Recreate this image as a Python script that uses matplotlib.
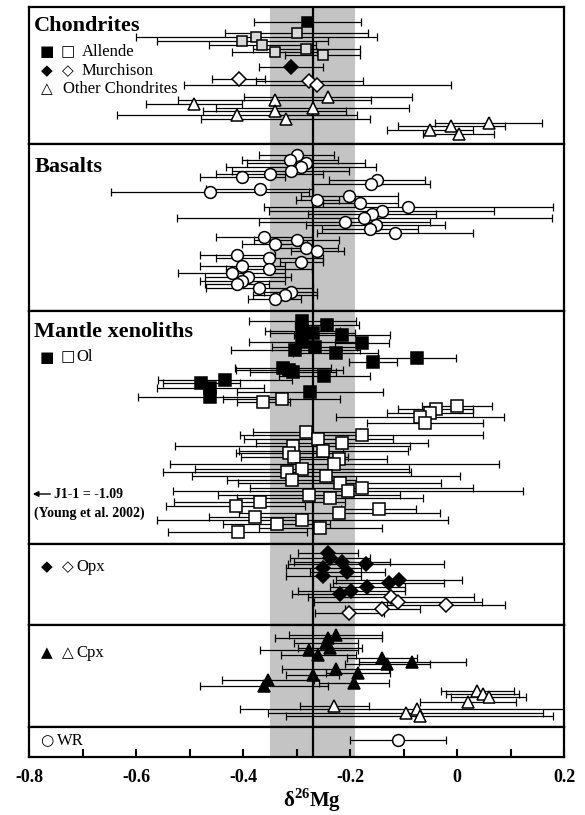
import matplotlib.pyplot as plt

plt.rcParams['font.family'] = ['Liberation Serif', 'DejaVu Sans']
plt.rcParams['axes.unicode_minus'] = False
plt.rcParams['mathtext.fontset'] = 'custom'
plt.rcParams['mathtext.rm'] = 'Liberation Serif'
plt.rcParams['mathtext.bf'] = 'Liberation Serif:bold'

# ---- data: delta26Mg value, 2sd error, row (vertical order inside each panel)
# Chondrites
allende_fill_val = [-0.28]
allende_fill_err = [0.10]
allende_fill_row = [15]
allende_open_val = [-0.300, -0.375, -0.401, -0.364, -0.282, -0.341, -0.251]
allende_open_err = [0.134, 0.225, 0.16, 0.10, 0.10, 0.08, 0.07]
allende_open_row = [26, 30, 34, 38, 42, 45, 48]
murch_fill_val = [-0.311]
murch_fill_err = [0.06]
murch_fill_row = [60]
murch_open_val = [-0.408, -0.276, -0.261]
murch_open_err = [0.05, 0.10, 0.25]
murch_open_row = [72, 74, 78]
other_val = [-0.241, -0.341, -0.492, -0.270, -0.341, -0.411, -0.320, 0.059, -0.011, -0.051, 0.003]
other_err = [0.157, 0.18, 0.09, 0.18, 0.134, 0.224, 0.158, 0.10, 0.10, 0.08, 0.066]
other_row = [90, 93, 97, 101, 104, 108, 112, 116, 119, 123, 127]

# Basalts
basalt_val = [-0.300, -0.312, -0.282, -0.291, -0.311, -0.350, -0.401, -0.150, -0.161, -0.369,
              -0.461, -0.201, -0.261, -0.181, -0.091, -0.141, -0.159, -0.173, -0.210, -0.152,
              -0.162, -0.116, -0.361, -0.300, -0.341, -0.282, -0.261, -0.411, -0.351, -0.291,
              -0.401, -0.351, -0.421, -0.391, -0.401, -0.411, -0.370, -0.311, -0.321, -0.341]
basalt_err = [0.07, 0.09, 0.11, 0.14, 0.11, 0.10, 0.08, 0.09, 0.11, 0.10,
              0.185, 0.09, 0.04, 0.07, 0.27, 0.21, 0.12, 0.35, 0.16, 0.13,
              0.09, 0.146, 0.09, 0.08, 0.06, 0.06, 0.05, 0.07, 0.10, 0.04,
              0.08, 0.08, 0.10, 0.08, 0.08, 0.06, 0.10, 0.05, 0.06, 0.05]
basalt_row = [11, 16, 19, 23, 27, 30, 33, 36, 40, 45,
              48, 52, 56, 59, 63, 67, 70, 74, 78, 81,
              85, 89, 93, 96, 100, 104, 107, 111, 114, 118,
              122, 125, 129, 133, 137, 140, 144, 148, 151, 155]

# Mantle xenoliths - olivine
ol_fill_val = [-0.289, -0.243, -0.289, -0.270, -0.215, -0.289, -0.266, -0.178, -0.302, -0.227,
               -0.075, -0.157, -0.325, -0.307, -0.314, -0.248, -0.433, -0.478, -0.461, -0.461, -0.275]
ol_fill_err = [0.10, 0.06, 0.07, 0.08, 0.09, 0.10, 0.08, 0.05, 0.12, 0.08,
               0.073, 0.045, 0.09, 0.08, 0.10, 0.085, 0.125, 0.072, 0.10, 0.136, 0.136]
ol_fill_row = [10, 14, 20, 22, 24, 31, 36, 32, 39, 42,
               47, 51, 57, 61, 59, 65, 69, 72, 77, 86, 81]
ol_open_val = [-0.328, -0.362, 0.000, -0.040, -0.050, -0.070, -0.060,
               -0.282, -0.178, -0.259, -0.215, -0.307, -0.250, -0.314, -0.304, -0.221, -0.229,
               -0.289, -0.318, -0.245, -0.309, -0.219, -0.178, -0.203, -0.276, -0.238, -0.369,
               -0.414, -0.146, -0.220, -0.377, -0.289, -0.337, -0.256, -0.410]
ol_open_err = [0.11, 0.05, 0.066, 0.07, 0.08, 0.157, 0.108,
               0.10, 0.227, 0.14, 0.16, 0.22, 0.158, 0.10, 0.10, 0.09, 0.308,
               0.20, 0.232, 0.25, 0.12, 0.19, 0.208, 0.327, 0.17, 0.174, 0.16,
               0.13, 0.07, 0.188, 0.086, 0.272, 0.10, 0.115, 0.13]
ol_open_row = [88, 91, 95, 98, 102, 106, 112,
               121, 124, 128, 132, 135, 140, 142, 146, 148, 153,
               158, 161, 165, 169, 172, 177, 180, 184, 187, 191,
               195, 198, 202, 206, 209, 213, 217, 221]

# Orthopyroxene
opx_fill_val = [-0.241, -0.238, -0.215, -0.170, -0.250, -0.205, -0.250, -0.109, -0.128, -0.168, -0.198, -0.218]
opx_fill_err = [0.056, 0.075, 0.09, 0.145, 0.07, 0.07, 0.07, 0.118, 0.103, 0.07, 0.10, 0.09]
opx_fill_row = [9, 14, 18, 20, 24, 28, 32, 36, 39, 43, 47, 50]
opx_open_val = [-0.123, -0.110, -0.020, -0.140, -0.201]
opx_open_err = [0.155, 0.157, 0.11, 0.07, 0.065]
opx_open_row = [53, 58, 61, 65, 69]

# Clinopyroxene
cpx_fill_val = [-0.227, -0.241, -0.245, -0.238, -0.277, -0.259, -0.140, -0.084, -0.130, -0.227,
                -0.185, -0.270, -0.354, -0.361, -0.193]
cpx_fill_err = [0.087, 0.10, 0.06, 0.06, 0.092, 0.07, 0.065, 0.10, 0.08, 0.10,
                0.06, 0.05, 0.086, 0.12, 0.065]
cpx_fill_row = [10, 13, 18, 23, 25, 30, 33, 37, 39, 44, 48, 50, 55, 61, 58]
cpx_open_val = [0.038, 0.048, 0.059, 0.021, -0.229, -0.075, -0.096, -0.070]
cpx_open_err = [0.068, 0.068, 0.07, 0.09, 0.065, 0.33, 0.257, 0.25]
cpx_open_row = [66, 69, 72, 77, 81, 84, 88, 91]

# Whole rock
wr_val = [-0.110]
wr_err = [0.09]
wr_row = [13]

xticks = [-0.8, -0.6, -0.4, -0.2, 0.0, 0.2]
xtick_labels = ['-0.8', '-0.6', '-0.4', '-0.2', '0', '0.2']
minor_ticks = [-0.7, -0.5, -0.3, -0.1, 0.1]
mean_val = -0.27
band = (-0.35, -0.19)

# ---- layout (pixel rows of the 585x815 figure)
W, H = 585, 815
left_px, right_px = 29, 564
edges = [7, 144, 311, 544, 625, 727, 757]

fig = plt.figure(figsize=(W / 100, H / 100), dpi=100)
axes = []
for top, bot in zip(edges[:-1], edges[1:]):
    ax = fig.add_axes([left_px / W, 1 - bot / H, (right_px - left_px) / W, (bot - top) / H])
    ax.set_xlim(-0.8, 0.2)
    ax.set_ylim(bot - top, 0)
    ax.axvspan(band[0], band[1], color='#c4c4c4', lw=0, zorder=0)
    ax.axvline(mean_val, color='black', lw=1.6, zorder=1)
    ax.set_yticks([])
    ax.set_xticks([])
    for s in ax.spines.values():
        s.set_linewidth(1.6)
    axes.append(ax)

ax_ch, ax_ba, ax_ma, ax_opx, ax_cpx, ax_wr = axes


def series(ax, val, err, row, marker, face, ms=7.5):
    ax.errorbar(val, row, xerr=err, fmt='none', ecolor='black', elinewidth=0.9,
                capsize=3, capthick=0.9, zorder=3)
    ax.plot(val, row, linestyle='none', marker=marker, ms=ms, mfc=face,
            mec='black', mew=1.1, zorder=4)


series(ax_ch, allende_fill_val, allende_fill_err, allende_fill_row, 's', 'black')
series(ax_ch, allende_open_val, allende_open_err, allende_open_row, 's', '#d9d9d9')
series(ax_ch, murch_fill_val, murch_fill_err, murch_fill_row, 'D', 'black', 7.5)
series(ax_ch, murch_open_val, murch_open_err, murch_open_row, 'D', 'white', 7.5)
series(ax_ch, other_val, other_err, other_row, '^', 'white', 8.5)

series(ax_ba, basalt_val, basalt_err, basalt_row, 'o', 'white', 8.5)

series(ax_ma, ol_fill_val, ol_fill_err, ol_fill_row, 's', 'black', 8.5)
series(ax_ma, ol_open_val, ol_open_err, ol_open_row, 's', 'white', 8.5)

series(ax_opx, opx_fill_val, opx_fill_err, opx_fill_row, 'D', 'black', 7.5)
series(ax_opx, opx_open_val, opx_open_err, opx_open_row, 'D', 'white', 7.5)

series(ax_cpx, cpx_fill_val, cpx_fill_err, cpx_fill_row, '^', 'black', 8.5)
series(ax_cpx, cpx_open_val, cpx_open_err, cpx_open_row, '^', 'white', 8.5)

series(ax_wr, wr_val, wr_err, wr_row, 'o', 'white', 8.5)

# ---- panel titles and keys
title_kw = dict(fontsize=16, fontweight='bold', ha='left', va='center')
glyph_kw = dict(fontsize=11, ha='center', va='center', family=['DejaVu Sans'])
key_kw = dict(fontsize=12, ha='left', va='center')


def key(ax, row, glyphs, label, text_x):
    for gx, g in zip((-0.766, -0.727), glyphs):
        ax.text(gx, row, g, **glyph_kw)
    ax.text(text_x, row, label, **key_kw)


ax_ch.text(-0.79, 19, 'Chondrites', **title_kw)
key(ax_ch, 45, '■□', 'Allende', -0.702)
key(ax_ch, 64, '◆◇', 'Murchison', -0.702)
key(ax_ch, 82, '△', 'Other Chondrites', -0.737)
ax_ba.text(-0.79, 23, 'Basalts', **title_kw)
ax_ma.text(-0.79, 21, 'Mantle xenoliths', **title_kw)
key(ax_ma, 46, '■□', 'Ol', -0.712)
key(ax_opx, 23, '◆◇', 'Opx', -0.712)
key(ax_cpx, 28, '▲△', 'Cpx', -0.712)
key(ax_wr, 14, '○', 'WR', -0.748)

ax_ma.annotate('', xy=(-0.798, 183), xytext=(-0.755, 183),
               arrowprops=dict(arrowstyle='-|>', lw=1, color='black', mutation_scale=8))
ax_ma.text(-0.753, 183, 'J1-1 = -1.09', fontsize=10, fontweight='bold', ha='left', va='center')
ax_ma.text(-0.79, 202, '(Young et al. 2002)', fontsize=10, fontweight='bold', ha='left', va='center')

# ---- x axis on bottom panel
ax_wr.set_xticks(xticks)
ax_wr.set_xticklabels(xtick_labels, fontsize=13, fontweight='bold')
ax_wr.set_xticks(minor_ticks, minor=True)
ax_wr.tick_params(axis='x', which='both', direction='in', length=6, width=1.5, pad=9)
fig.text((left_px + 0.53 * (right_px - left_px)) / W, 1 - 800 / H, 'δ$^{\\mathbf{26}}$Mg',
         fontsize=15, fontweight='bold', ha='center', va='center')

fig.savefig('out.png', dpi=100)
